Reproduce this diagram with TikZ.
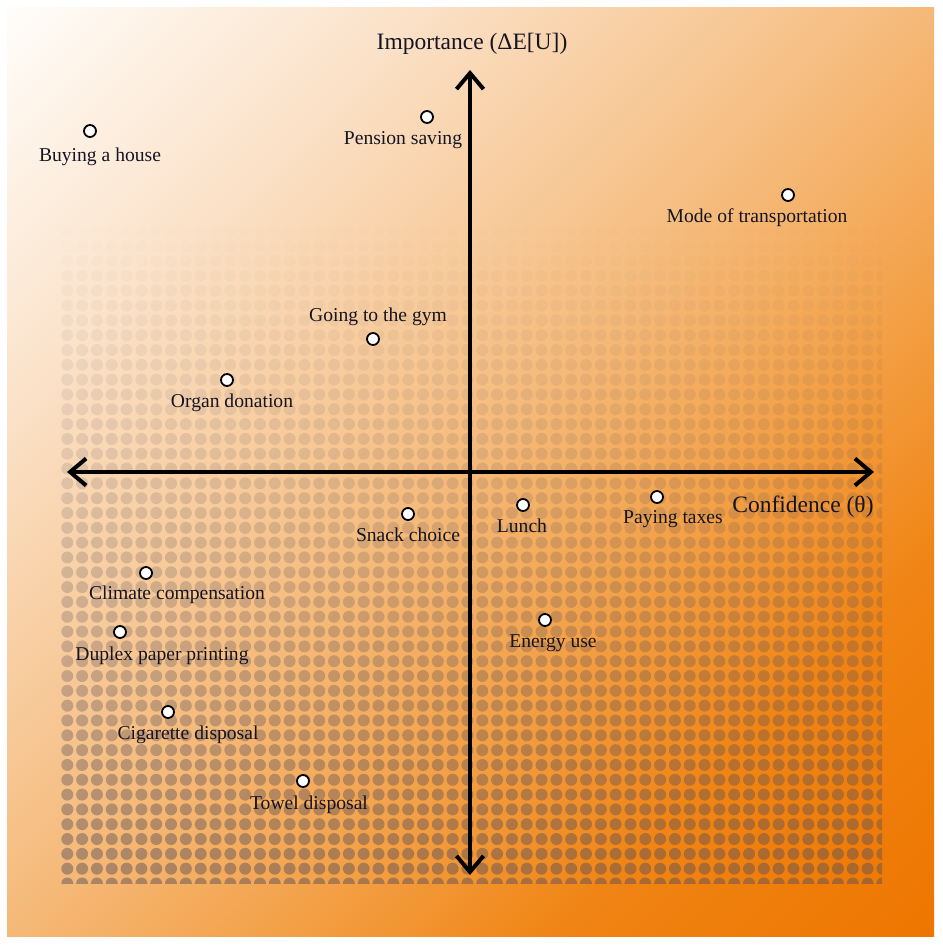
\documentclass[tikz,border=0pt]{standalone}
\usepackage{fontspec}
\setmainfont{Liberation Serif}
\usetikzlibrary{arrows.meta}
\definecolor{txt}{RGB}{20,20,35}
\definecolor{dotc}{RGB}{90,80,90}
\definecolor{g0}{RGB}{255,253,250}
\definecolor{g1}{RGB}{251,228,205}
\definecolor{g2}{RGB}{247,200,150}
\definecolor{g3}{RGB}{245,185,120}
\definecolor{g4}{RGB}{243,160,70}
\definecolor{g5}{RGB}{240,132,20}
\definecolor{g6}{RGB}{238,118,0}
\pgfdeclarehorizontalshading{bgshade}{100bp}{color(0bp)=(g0); color(14.64bp)=(g0); color(28.78bp)=(g1); color(42.93bp)=(g2); color(50bp)=(g3); color(60.6bp)=(g4); color(71.2bp)=(g5); color(85.36bp)=(g6); color(100bp)=(g6)}
\begin{document}
\begin{tikzpicture}[x=1bp,y=1bp,
  pt/.style={circle, draw=black, fill=white, line width=1.8bp, minimum size=12bp, inner sep=0pt},
  lbl/.style={anchor=base, inner sep=0pt, text=txt, font=\fontsize{19.6bp}{23bp}\selectfont},
  axlbl/.style={anchor=base, inner sep=0pt, text=txt, font=\fontsize{23.5bp}{27bp}\selectfont},
  axis/.style={line width=4bp, line join=miter, {Straight Barb[length=16bp,width=27bp]}-{Straight Barb[length=16bp,width=27bp]}}]
\useasboundingbox (0,0) rectangle (943,-947);
\shade[shading=bgshade, shading angle=-45] (7,-7) rectangle (934,-936);
\begin{scope}
\clip (61,-225) rectangle (882,-883.3);
\foreach \r in {0,...,44}{
  \pgfmathsetmacro{\yy}{883.5-14.82*\r}
  \pgfmathsetmacro{\op}{0.48*(max(0,(\yy-225)/658))^1.15}
  \foreach \c in {0,...,55}{
    \fill[dotc, fill opacity=\op] (67.3+14.82*\c, -\yy) circle (6);
  }
}
\end{scope}
\coordinate (xl) at (67,-472);
\coordinate (xr) at (874,-472);
\coordinate (yt) at (470,-70);
\coordinate (yb) at (470,-875);
\draw[axis] (xl) -- (xr);
\draw[axis] (yb) -- (yt);
\node[axlbl] (ylab) at (472,-49) {Importance (ΔE[U])};
\node[axlbl] (xlab) at (803,-512) {Confidence (θ)};
\node[pt] (d1) at (90,-131) {};
\node[lbl] (l1) at (100,-161) {Buying a house};
\node[pt] (d2) at (427,-117) {};
\node[lbl] (l2) at (403,-144) {Pension saving};
\node[pt] (d3) at (788,-195) {};
\node[lbl] (l3) at (757,-222) {Mode of transportation};
\node[pt] (d4) at (373,-339) {};
\node[lbl] (l4) at (378,-321) {Going to the gym};
\node[pt] (d5) at (227,-380) {};
\node[lbl] (l5) at (232,-407) {Organ donation};
\node[pt] (d6) at (408,-514) {};
\node[lbl] (l6) at (408,-541) {Snack choice};
\node[pt] (d7) at (523,-505) {};
\node[lbl] (l7) at (522,-532) {Lunch};
\node[pt] (d8) at (657,-497) {};
\node[lbl] (l8) at (673,-523) {Paying taxes};
\node[pt] (d9) at (146,-573) {};
\node[lbl] (l9) at (177,-599) {Climate compensation};
\node[pt] (d10) at (120,-632) {};
\node[lbl] (l10) at (162,-660) {Duplex paper printing};
\node[pt] (d11) at (545,-620) {};
\node[lbl] (l11) at (553,-647) {Energy use};
\node[pt] (d12) at (168,-712) {};
\node[lbl] (l12) at (188,-739) {Cigarette disposal};
\node[pt] (d13) at (303,-781) {};
\node[lbl] (l13) at (309,-809) {Towel disposal};
\end{tikzpicture}
\end{document}
